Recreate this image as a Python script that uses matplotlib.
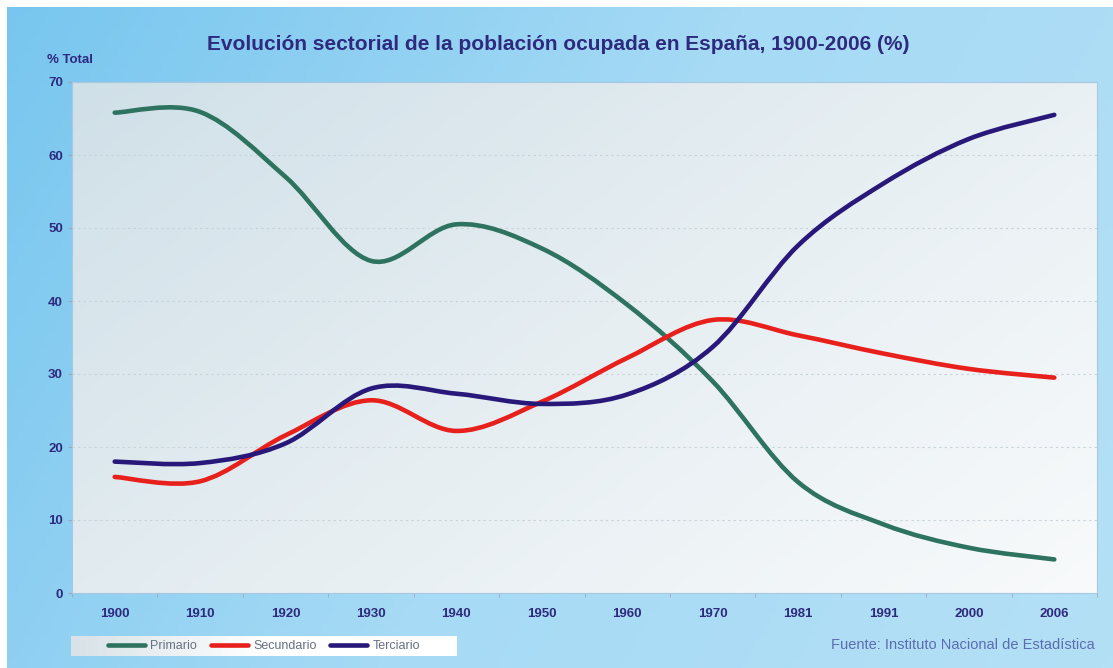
import numpy as np
import matplotlib
matplotlib.use("Agg")
import matplotlib.pyplot as plt
from matplotlib.path import Path
from matplotlib.patches import PathPatch
from matplotlib.lines import Line2D
from matplotlib.colors import LinearSegmentedColormap

plt.rcParams['font.family'] = ['Liberation Sans', 'DejaVu Sans']

# === datos (INE) ===
anios = ['1900', '1910', '1920', '1930', '1940', '1950', '1960', '1970',
         '1981', '1991', '2000', '2006']
primario = [65.8, 65.9, 57.0, 45.5, 50.5, 47.2, 39.5, 29.0, 15.2, 9.4, 6.2, 4.6]
secundario = [15.9, 15.3, 21.6, 26.4, 22.2, 26.2, 32.2, 37.4, 35.3, 32.8, 30.7, 29.5]
terciario = [18.0, 17.8, 20.5, 28.0, 27.3, 25.9, 27.2, 33.7, 47.6, 56.1, 62.2, 65.5]

series = [('Primario', primario, '#2d735f'),
          ('Secundario', secundario, '#e8201c'),
          ('Terciario', terciario, '#27187a')]

azul_txt = '#2e2a7e'
W, H = 1113, 668


def curva_suave(xs, ys):
    # curva tipo "linea suavizada" de Excel (Catmull-Rom -> Bezier)
    pts = np.column_stack([xs, ys]).astype(float)
    n = len(pts)
    verts = [pts[0]]
    codes = [Path.MOVETO]
    for i in range(n - 1):
        p0 = pts[max(i - 1, 0)]
        p1 = pts[i]
        p2 = pts[i + 1]
        p3 = pts[min(i + 2, n - 1)]
        verts += [p1 + (p2 - p0) / 6, p2 - (p3 - p1) / 6, p2]
        codes += [Path.CURVE4] * 3
    return Path(verts, codes)


fig = plt.figure(figsize=(W / 100, H / 100), dpi=100)
fig.patch.set_facecolor('white')

# fondo azul con degradado
bg = fig.add_axes([7 / W, 0, 1 - 7 / W, 1 - 7 / H], zorder=-10)
gx, gy = np.meshgrid(np.linspace(0, 1, 200), np.linspace(0, 1, 120))
cmap_bg = LinearSegmentedColormap.from_list('bg', ['#78c6ef', '#a6daf5', '#b4e0f6'])
bg.imshow(0.75 * gx + 0.25 * gy, cmap=cmap_bg, aspect='auto', origin='upper',
          extent=[0, 1, 0, 1], vmin=0, vmax=1)
bg.axis('off')

# area del grafico
ax = fig.add_axes([72 / W, (H - 593) / H, 1025 / W, 511 / H])
cmap_pl = LinearSegmentedColormap.from_list('pl', ['#d0e0e8', '#e6eef2', '#f8fafb'])
ax.imshow(0.6 * gx + 0.4 * gy, cmap=cmap_pl, aspect='auto', origin='upper',
          extent=[-0.5, 11.5, 0, 70], vmin=0, vmax=1, zorder=0)

x = np.arange(len(anios))
for nombre, vals, color in series:
    ax.add_patch(PathPatch(curva_suave(x, vals), fill=False, edgecolor=color,
                           lw=3.3, capstyle='round', joinstyle='round', zorder=3))

ax.set_xlim(-0.5, 11.5)
ax.set_ylim(0, 70)
ax.set_yticks(range(0, 71, 10))
ax.set_xticks(x)
ax.set_xticklabels(anios)
ax.set_xticks(np.arange(-0.5, 12, 1), minor=True)
ax.tick_params(axis='x', which='major', length=0, pad=11)
ax.tick_params(axis='x', which='minor', length=3, color='#9aaabb')
ax.tick_params(axis='y', length=3, color='#9aaabb', pad=3.5)
for lab in ax.get_xticklabels() + ax.get_yticklabels():
    lab.set_fontweight('bold')
    lab.set_fontsize(9.5)
    lab.set_color(azul_txt)

ax.set_axisbelow(True)
ax.yaxis.grid(True, linestyle=(0, (2, 3)), color='#c6d2da', lw=0.8)
for s in ax.spines.values():
    s.set_color('#a8c8e0')
    s.set_linewidth(0.8)

fig.text(0.502, 1 - 44 / H,
         'Evolución sectorial de la población ocupada en España, 1900-2006 (%)',
         ha='center', va='center', fontsize=15, fontweight='bold', color=azul_txt)
fig.text(47 / W, 1 - 60 / H, '% Total', ha='left', va='center', fontsize=9.5,
         fontweight='bold', color=azul_txt)
fig.text(1095 / W, 1 - 645 / H, 'Fuente: Instituto Nacional de Estadística',
         ha='right', va='center', fontsize=10.5, color='#5b6db0')

# leyenda en caja blanca
lax = fig.add_axes([71 / W, (H - 656) / H, 386 / W, 20 / H])
cmap_lg = LinearSegmentedColormap.from_list('lg', ['#d8e2e8', '#ffffff', '#ffffff'])
lax.imshow(np.linspace(0, 1, 100)[None, :], cmap=cmap_lg, aspect='auto',
           extent=[0, 1, 0, 1])
lax.axis('off')
handles = [Line2D([], [], color=c, lw=3.3, solid_capstyle='round') for _, _, c in series]
lax.legend(handles, [s[0] for s in series], loc='center', ncol=3, frameon=False,
           fontsize=9, handlelength=2.95, handletextpad=0.45, columnspacing=1.1,
           labelcolor='#667080', borderaxespad=0, borderpad=0)

fig.savefig('out.png', dpi=100)
